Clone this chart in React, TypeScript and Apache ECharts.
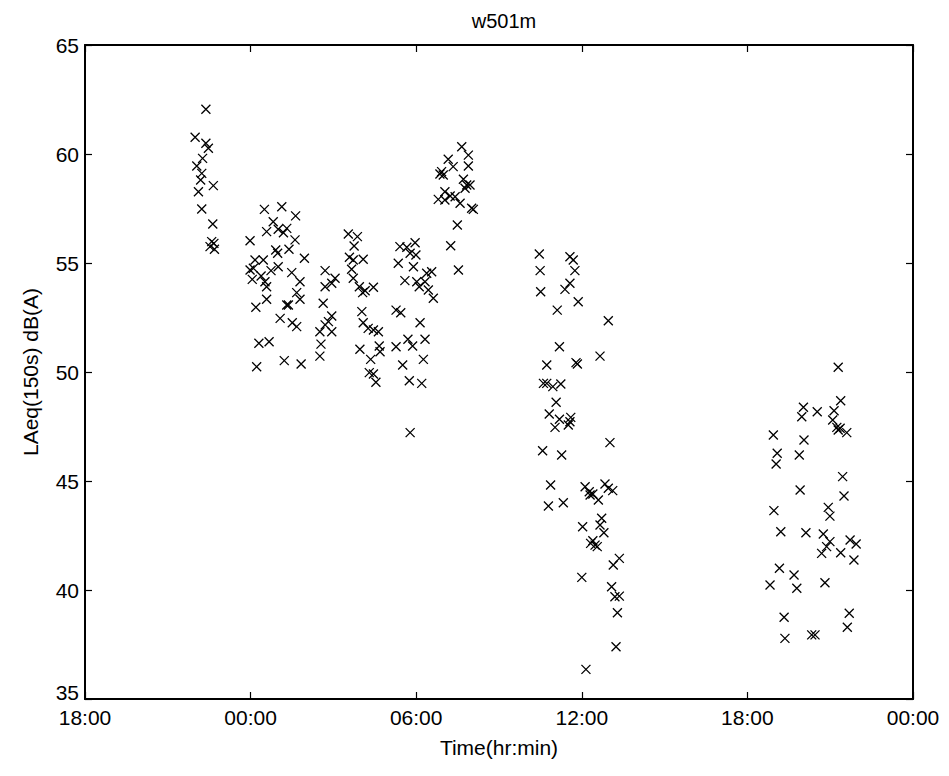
import React, { useEffect, useRef } from "react";
import * as echarts from "echarts";

const TITLE = "w501m";
const X_NAME = "Time(hr:min)";
const Y_NAME = "LAeq(150s) dB(A)";
const X_TICK_LABELS = ["18:00", "00:00", "06:00", "12:00", "18:00", "00:00"];
const X_STEP = 6; // hours between ticks, counted from 18:00
const Y_MIN = 35;
const Y_MAX = 65;
const Y_STEP = 5;

// [hours since 18:00, LAeq dB(A)]
const eveningPts = [
  [4.38, 62.05], [3.99, 60.77], [4.38, 60.49], [4.47, 60.26], [4.26, 59.8], [4.05, 59.45],
  [4.23, 59.11], [4.19, 58.81], [4.65, 58.55], [4.11, 58.27], [4.23, 57.48], [4.63, 56.79],
  [4.59, 55.98], [4.67, 55.9], [4.53, 55.75], [4.69, 55.63],
];

const midnightPts = [
  [6.5, 57.46], [7.13, 57.58], [7.63, 57.16], [6.82, 56.89], [6.58, 56.44], [7.0, 56.55],
  [7.31, 56.59], [7.19, 56.39], [7.61, 56.06], [5.98, 56.02], [6.91, 55.6], [6.98, 55.45],
  [7.39, 55.63], [7.95, 55.22], [6.16, 55.14], [6.46, 55.14], [6.1, 54.76], [5.98, 54.68],
  [7.0, 54.83], [6.74, 54.65], [7.49, 54.56], [8.7, 54.65], [6.06, 54.25], [6.38, 54.4],
  [6.52, 54.14], [6.58, 53.91], [7.79, 54.14], [9.06, 54.3], [8.94, 54.07], [8.7, 53.91],
  [7.67, 53.64], [7.79, 53.34], [6.58, 53.34], [6.19, 52.97], [7.31, 53.07], [7.37, 53.07],
  [8.63, 53.15], [7.07, 52.46], [7.51, 52.26], [7.67, 52.08], [8.94, 52.57], [8.82, 52.31],
  [8.7, 52.16], [8.51, 51.85], [8.94, 51.85], [8.55, 51.28], [6.3, 51.32], [6.67, 51.39],
  [8.51, 50.73], [6.22, 50.24], [7.22, 50.52], [7.83, 50.37],
];

const earlyPts = [
  [9.54, 56.33], [9.87, 56.21], [9.75, 55.78], [9.58, 55.26], [9.72, 55.14], [10.08, 55.17],
  [9.66, 54.71], [9.72, 54.3], [9.94, 53.91], [10.06, 53.64], [10.15, 53.73], [10.45, 53.89],
  [11.41, 55.75], [11.66, 55.72], [11.96, 55.93], [11.78, 55.45], [11.99, 55.37], [11.35, 54.99],
  [11.9, 54.83], [11.59, 54.19], [12.02, 54.14], [12.11, 53.91], [12.38, 54.53], [12.32, 54.14],
  [12.44, 53.76], [10.03, 52.77], [10.08, 52.26], [10.26, 52.0], [10.45, 51.93], [10.63, 51.85],
  [11.27, 52.84], [11.44, 52.72], [12.14, 52.26], [9.96, 51.04], [10.35, 50.58], [10.66, 51.19],
  [10.69, 50.93], [11.27, 51.16], [11.7, 51.5], [11.87, 51.19], [12.32, 51.5], [10.3, 49.97],
  [10.45, 49.91], [10.54, 49.53], [11.51, 50.32], [11.75, 49.6], [12.2, 49.48], [12.26, 50.58],
  [11.78, 47.22], [12.56, 54.6], [12.62, 53.38],
];

const morningPts = [
  [13.65, 60.33], [13.89, 59.95], [13.89, 59.45], [13.16, 59.76], [13.34, 59.42], [12.92, 59.19],
  [12.98, 59.04], [12.86, 59.08], [13.71, 58.84], [13.83, 58.58], [13.95, 58.58], [13.77, 58.43],
  [13.04, 58.27], [13.23, 58.07], [12.8, 57.92], [13.04, 57.89], [13.41, 58.04], [13.59, 57.74],
  [14.01, 57.51], [14.07, 57.46], [13.49, 56.74], [13.25, 55.79], [13.53, 54.68],
];

const middayPts = [
  [16.46, 55.41], [17.57, 55.29], [17.69, 55.14], [16.49, 54.65], [17.75, 54.65], [16.51, 53.68],
  [17.57, 54.07], [17.39, 53.79], [17.87, 53.22], [17.11, 52.84], [17.19, 51.16], [16.73, 50.32],
  [17.79, 50.43], [17.84, 50.37], [16.61, 49.48], [16.73, 49.48], [16.95, 49.33], [17.24, 49.45],
  [17.07, 48.61], [16.82, 48.07], [17.19, 47.83], [17.03, 47.46], [17.6, 47.92], [17.51, 47.57],
  [17.57, 47.72], [16.58, 46.39], [17.27, 46.19], [18.96, 52.35], [18.66, 50.73], [19.02, 46.76],
  [16.87, 44.82], [16.79, 43.85], [17.33, 44.0], [18.12, 44.74], [18.27, 44.51], [18.4, 44.4],
  [18.3, 44.36], [18.6, 44.13], [18.84, 44.86], [18.96, 44.67], [19.12, 44.56], [18.72, 43.29],
  [18.66, 42.98], [18.8, 42.63], [18.03, 42.9], [18.4, 42.26], [18.48, 42.06], [18.56, 41.99],
  [18.32, 42.14], [19.36, 41.45], [19.14, 41.15], [18.0, 40.58], [19.08, 40.15], [19.2, 39.69],
  [19.36, 39.72], [19.29, 38.96], [19.24, 37.4], [18.15, 36.36],
];

const lateEveningPts = [
  [27.29, 50.22], [27.38, 48.68], [26.03, 48.38], [25.97, 47.95], [26.53, 48.18], [27.14, 48.22],
  [27.09, 47.8], [27.24, 47.46], [27.36, 47.42], [27.6, 47.22], [27.29, 47.34], [24.94, 47.11],
  [26.05, 46.88], [25.08, 46.27], [25.04, 45.78], [25.88, 46.19], [27.45, 45.2], [27.5, 44.31],
  [25.91, 44.59], [26.93, 43.79], [26.99, 43.39], [24.96, 43.64], [25.21, 42.67], [26.12, 42.63],
  [26.75, 42.57], [26.99, 42.22], [26.87, 41.99], [26.69, 41.68], [27.72, 42.29], [27.94, 42.11],
  [27.38, 41.71], [27.86, 41.38], [25.16, 41.0], [25.69, 40.69], [25.79, 40.08], [26.81, 40.33],
  [24.82, 40.23], [25.33, 38.75], [27.69, 38.93], [27.62, 38.29], [25.36, 37.78], [26.33, 37.94],
  [26.45, 37.94],
];

const FONT = "'Liberation Sans', Arial, sans-serif";

export default function App() {
  const ref = useRef<HTMLDivElement>(null);
  useEffect(() => {
    if (!ref.current) return;
    const chart = echarts.init(ref.current, undefined, { renderer: "svg" });
    const xMax = X_STEP * (X_TICK_LABELS.length - 1);
    const axisLine = { show: true, onZero: false, lineStyle: { color: "#000", width: 2 } };
    const tick = { show: true, inside: true, length: 7, lineStyle: { color: "#000", width: 1.2 } };
    const allPts = [
      ...eveningPts, ...midnightPts, ...earlyPts, ...morningPts, ...middayPts, ...lateEveningPts,
    ];
    chart.setOption({
      animation: false,
      backgroundColor: "#fff",
      title: {
        text: TITLE,
        left: 499,
        top: 6,
        textAlign: "center",
        textStyle: { fontFamily: FONT, fontSize: 20, fontWeight: "normal", color: "#000" },
      },
      grid: { left: 85, right: 36, top: 45, bottom: 77, containLabel: false },
      xAxis: [
        {
          type: "value",
          position: "bottom",
          min: 0,
          max: xMax,
          interval: X_STEP,
          axisLine,
          axisTick: tick,
          splitLine: { show: false },
          axisLabel: {
            show: true,
            showMinLabel: true,
            showMaxLabel: true,
            margin: 8,
            color: "#000",
            fontFamily: FONT,
            fontSize: 21,
            formatter: (v: number) => X_TICK_LABELS[Math.round(v / X_STEP)] ?? "",
          },
          name: X_NAME,
          nameLocation: "middle",
          nameGap: 38,
          nameTextStyle: { color: "#000", fontFamily: FONT, fontSize: 21 },
        },
        {
          type: "value",
          position: "top",
          min: 0,
          max: xMax,
          interval: X_STEP,
          axisLine,
          axisTick: tick,
          splitLine: { show: false },
          axisLabel: { show: false },
        },
      ],
      yAxis: [
        {
          type: "value",
          position: "left",
          min: Y_MIN,
          max: Y_MAX,
          interval: Y_STEP,
          axisLine,
          axisTick: tick,
          splitLine: { show: false },
          axisLabel: {
            show: true,
            showMinLabel: true,
            showMaxLabel: true,
            margin: 6,
            color: "#000",
            fontFamily: FONT,
            fontSize: 21,
            formatter: (v: number) => (v === Y_MIN ? `{lo|${v}}` : `${v}`),
            rich: { lo: { fontFamily: FONT, fontSize: 21, color: "#000", padding: [0, 0, 14, 0] } },
          },
          name: Y_NAME,
          nameLocation: "middle",
          nameGap: 44,
          nameTextStyle: { color: "#000", fontFamily: FONT, fontSize: 21 },
        },
        {
          type: "value",
          position: "right",
          min: Y_MIN,
          max: Y_MAX,
          interval: Y_STEP,
          axisLine,
          axisTick: tick,
          splitLine: { show: false },
          axisLabel: { show: false },
        },
      ],
      series: [
        {
          type: "scatter",
          xAxisIndex: 0,
          yAxisIndex: 0,
          data: allPts,
          symbol: "path://M0,0L10,10M10,0L0,10",
          symbolSize: 9,
          itemStyle: { color: "rgba(0,0,0,0)", borderColor: "#000", borderWidth: 1.3, opacity: 1 },
          emphasis: { disabled: true },
        },
      ],
    });
    return () => chart.dispose();
  }, []);
  return (
    <div
      ref={ref}
      style={{ position: "absolute", left: 0, top: 0, width: 949, height: 776, background: "#fff" }}
    />
  );
}
